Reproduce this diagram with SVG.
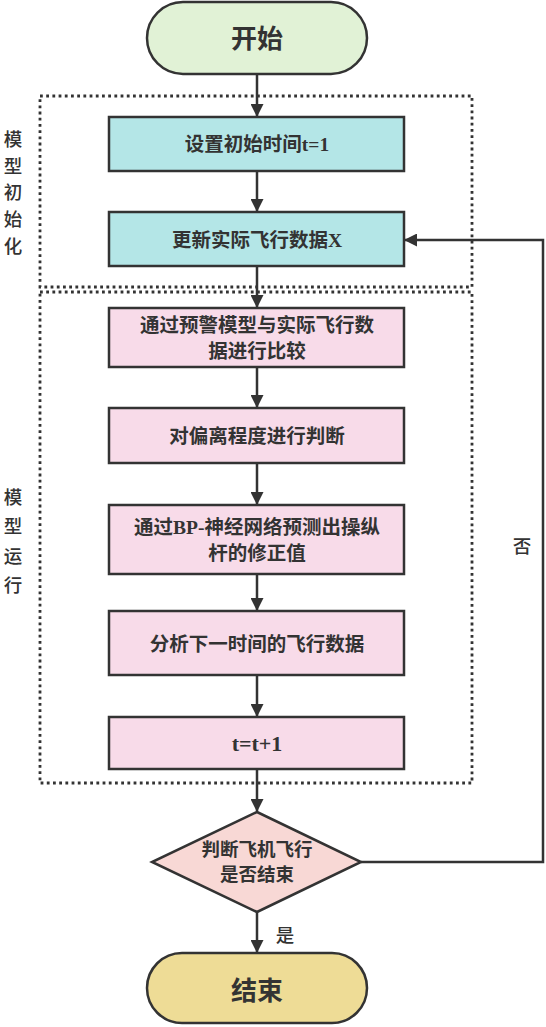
<svg xmlns="http://www.w3.org/2000/svg" width="546" height="1027" viewBox="0 0 546 1027">
  <style>
    .node { stroke: #333; stroke-width: 2.5; }
    .start { fill: #e1f2d6; }
    .init { fill: #b4e6e7; }
    .run { fill: #f8dbe9; }
    .decide { fill: #f8d8d5; }
    .finish { fill: #eedc96; }
    .group { fill: none; stroke: #333; stroke-width: 2.8; stroke-dasharray: 2.8 3.4; }
    .txt { font-family: "Liberation Serif", "Noto Sans CJK SC", serif; font-weight: bold; fill: #333; text-anchor: middle; dominant-baseline: central; }
    .big { font-size: 26px; }
    .mid { font-size: 19.5px; }
    .small { font-size: 18.5px; }
    .side { font-family: "Noto Sans CJK SC", sans-serif; font-weight: 500; font-size: 18.5px; fill: #333; text-anchor: middle; dominant-baseline: central; }
    .edge { fill: none; stroke: #333; stroke-width: 2.5; }
  </style>
  <defs>
    <marker id="arrow" markerWidth="12" markerHeight="13" refX="12" refY="6.5" orient="auto" markerUnits="userSpaceOnUse">
      <path d="M0,0 L13,6.5 L0,13 Z" fill="#333"/>
    </marker>
  </defs>
  <rect width="546" height="1027" fill="#fff"/>

  <!-- dotted phase groups -->
  <g id="phase-init">
    <rect class="group" x="40" y="96" width="432" height="191"/>
    <text class="side" x="13" y="138">模</text>
    <text class="side" x="13" y="165">型</text>
    <text class="side" x="13" y="191">初</text>
    <text class="side" x="13" y="218">始</text>
    <text class="side" x="13" y="245">化</text>
  </g>
  <g id="phase-run">
    <rect class="group" x="40" y="292" width="432" height="491"/>
    <text class="side" x="13" y="496">模</text>
    <text class="side" x="13" y="525">型</text>
    <text class="side" x="13" y="555">运</text>
    <text class="side" x="13" y="584">行</text>
  </g>

  <!-- connectors -->
  <g id="connectors">
    <line class="edge" x1="257" y1="74" x2="257" y2="116" marker-end="url(#arrow)"/>
    <line class="edge" x1="257" y1="171" x2="257" y2="211" marker-end="url(#arrow)"/>
    <line class="edge" x1="257" y1="266" x2="257" y2="307" marker-end="url(#arrow)"/>
    <line class="edge" x1="257" y1="367" x2="257" y2="407" marker-end="url(#arrow)"/>
    <line class="edge" x1="257" y1="463" x2="257" y2="504" marker-end="url(#arrow)"/>
    <line class="edge" x1="257" y1="574" x2="257" y2="610" marker-end="url(#arrow)"/>
    <line class="edge" x1="257" y1="675" x2="257" y2="716" marker-end="url(#arrow)"/>
    <line class="edge" x1="257" y1="769" x2="257" y2="811" marker-end="url(#arrow)"/>
    <line class="edge" x1="257" y1="912" x2="257" y2="952" marker-end="url(#arrow)"/>
    <polyline class="edge" points="361,862 543,862 543,240 405,240" marker-end="url(#arrow)"/>
    <text class="side" x="285" y="934" font-size="19">是</text>
    <text class="side" x="522" y="545" font-size="19">否</text>
  </g>

  <!-- nodes -->
  <g id="n-start">
    <rect class="node start" x="147" y="2" width="220" height="72" rx="36"/>
    <text class="txt big" x="257" y="39">开始</text>
  </g>
  <g id="n-set-time">
    <rect class="node init" x="109" y="117" width="295" height="54"/>
    <text class="txt mid" x="257" y="144">设置初始时间t=1</text>
  </g>
  <g id="n-update">
    <rect class="node init" x="109" y="212" width="295" height="54"/>
    <text class="txt mid" x="257" y="240">更新实际飞行数据X</text>
  </g>
  <g id="n-compare">
    <rect class="node run" x="109" y="308" width="295" height="59"/>
    <text class="txt mid" x="257" y="325">通过预警模型与实际飞行数</text>
    <text class="txt mid" x="257" y="351">据进行比较</text>
  </g>
  <g id="n-judge">
    <rect class="node run" x="109" y="408" width="295" height="55"/>
    <text class="txt mid" x="257" y="436">对偏离程度进行判断</text>
  </g>
  <g id="n-predict">
    <rect class="node run" x="109" y="505" width="295" height="69"/>
    <text class="txt mid" x="257" y="527">通过BP-神经网络预测出操纵</text>
    <text class="txt mid" x="257" y="553">杆的修正值</text>
  </g>
  <g id="n-analyse">
    <rect class="node run" x="109" y="611" width="295" height="64"/>
    <text class="txt mid" x="257" y="644">分析下一时间的飞行数据</text>
  </g>
  <g id="n-step">
    <rect class="node run" x="109" y="717" width="295" height="52"/>
    <text class="txt" x="257" y="743" font-size="22">t=t+1</text>
  </g>
  <g id="n-decide">
    <polygon class="node decide" points="257,812 361,862 257,912 152,862"/>
    <text class="txt small" x="257" y="850">判断飞机飞行</text>
    <text class="txt small" x="257" y="875">是否结束</text>
  </g>
  <g id="n-end">
    <rect class="node finish" x="147" y="953" width="220" height="70" rx="35"/>
    <text class="txt big" x="257" y="991">结束</text>
  </g>
</svg>
